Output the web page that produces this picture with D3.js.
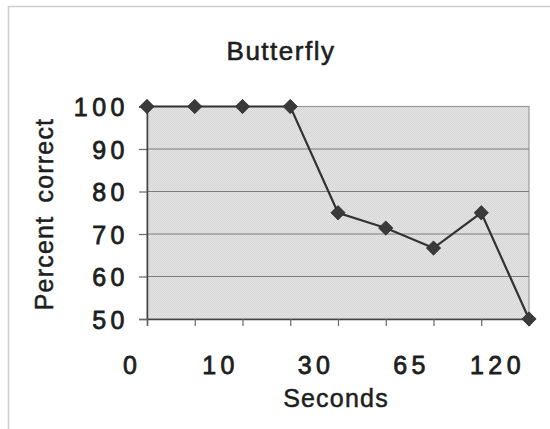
<!DOCTYPE html>
<html>
<head>
<meta charset="utf-8">
<script src="https://cdn.jsdelivr.net/npm/d3@7"></script>
<style>
  html, body { margin: 0; padding: 0; background: #fff; }
  svg { display: block; }
  text { font-family: "Liberation Sans", Arial, Helvetica, sans-serif; fill: #1e1e1e; stroke: #1e1e1e; }
</style>
</head>
<body>
<svg id="chart" width="550" height="429"></svg>
<script>
// Percent correct at each of the nine test delays
const percentCorrect = [100, 100, 100, 100, 75, 71.4, 66.7, 75, 50];
// Delay labels shown under the axis, and the category slot each one sits at
const secondsLabels = ["0", "10", "30", "65", "120"];
const secondsLabelSlots = [-0.35, 1.5, 3.5, 5.5, 7.3];
// Value axis ticks
const yTicks = [50, 60, 70, 80, 90, 100];

const svg = d3.select("#chart");
const margin = { left: 147, right: 21, top: 106.5, bottom: 110 };
const W = 550, H = 429;

// Outer frame (top and left edges only are visible)
svg.append("line").attr("x1", 8).attr("x2", 550).attr("y1", 6.5).attr("y2", 6.5)
  .attr("stroke", "#cfcfcf").attr("stroke-width", 1.5);
svg.append("line").attr("x1", 8.5).attr("x2", 8.5).attr("y1", 6).attr("y2", 429)
  .attr("stroke", "#cfcfcf").attr("stroke-width", 1.5);

const idx = d3.range(percentCorrect.length);
const x = d3.scaleLinear().domain([0, idx.length - 1]).range([margin.left, W - margin.right]);
const y = d3.scaleLinear().domain([50, 100]).range([H - margin.bottom, margin.top]);

// Dotted grey plot area
const defs = svg.append("defs");
const pat = defs.append("pattern").attr("id", "dots").attr("width", 2).attr("height", 2)
  .attr("patternUnits", "userSpaceOnUse");
pat.append("rect").attr("width", 2).attr("height", 2).attr("fill", "#e4e4e4");
pat.append("rect").attr("width", 1).attr("height", 1).attr("fill", "#d6d6d6");
pat.append("rect").attr("x", 1).attr("y", 1).attr("width", 1).attr("height", 1).attr("fill", "#d6d6d6");

svg.append("rect")
  .attr("x", x(0)).attr("y", y(100))
  .attr("width", x(idx.length - 1) - x(0)).attr("height", y(50) - y(100))
  .attr("fill", "url(#dots)")
  .attr("stroke", "#9a9a9a").attr("stroke-width", 1.2);

// Horizontal gridlines
svg.append("g").selectAll("line").data(yTicks.filter(v => v > 50 && v < 100)).join("line")
  .attr("x1", x(0)).attr("x2", x(idx.length - 1))
  .attr("y1", d => y(d)).attr("y2", d => y(d))
  .attr("stroke", "#7c7c7c").attr("stroke-width", 1.2);

// Value axis
const yAxis = svg.append("g").attr("transform", `translate(${x(0)},0)`)
  .call(d3.axisLeft(y).tickValues(yTicks).tickSize(8).tickPadding(10).tickFormat(d3.format("d")));
yAxis.select(".domain").attr("stroke", "#444").attr("stroke-width", 1.5);
yAxis.selectAll(".tick line").attr("stroke", "#666").attr("stroke-width", 1.2);
yAxis.selectAll(".tick text")
  .style("font-size", "25px").style("letter-spacing", "4.5px")
  .attr("dx", "0px").attr("dy", "0.36em")
  .attr("fill", "#1e1e1e").attr("stroke", "#1e1e1e").attr("stroke-width", 0.8);

// Category axis with a tick at every point
const xAxis = svg.append("g").attr("transform", `translate(0,${y(50)})`)
  .call(d3.axisBottom(x).tickValues(idx).tickSize(7).tickFormat(""));
xAxis.select(".domain").attr("stroke", "#444").attr("stroke-width", 1.5);
xAxis.selectAll(".tick line").attr("stroke", "#666").attr("stroke-width", 1.2);

svg.append("g").selectAll("text").data(secondsLabels).join("text")
  .attr("x", (d, i) => x(secondsLabelSlots[i]) + 2)
  .attr("y", y(50) + 55)
  .attr("text-anchor", "middle")
  .style("font-size", "25px").style("letter-spacing", "4.5px")
  .attr("stroke-width", 0.8)
  .text(d => d);

// Series line and diamond markers
svg.append("path").datum(percentCorrect)
  .attr("d", d3.line().x((d, i) => x(i)).y(d => y(d)))
  .attr("fill", "none").attr("stroke", "#333").attr("stroke-width", 2.2);

svg.append("g").selectAll("path").data(percentCorrect).join("path")
  .attr("transform", (d, i) => `translate(${x(i)},${y(d)})`)
  .attr("d", d3.symbol(d3.symbolDiamond2, 130)())
  .attr("fill", "#3a3a3a").attr("stroke", "#2a2a2a").attr("stroke-width", 0.8);

// Titles
svg.append("text").attr("x", 281).attr("y", 60).attr("text-anchor", "middle")
  .style("font-size", "26px").style("letter-spacing", "1.5px")
  .attr("stroke-width", 0.6)
  .text("Butterfly");
svg.append("text").attr("x", 336).attr("y", 407).attr("text-anchor", "middle")
  .style("font-size", "25px").style("letter-spacing", "1.2px")
  .attr("stroke-width", 0.5)
  .text("Seconds");
svg.append("text")
  .attr("transform", "translate(53,214) rotate(-90)")
  .attr("text-anchor", "middle")
  .style("font-size", "25px").style("letter-spacing", "1.2px").style("word-spacing", "5px")
  .attr("stroke-width", 0.5)
  .text("Percent correct");
</script>
</body>
</html>
